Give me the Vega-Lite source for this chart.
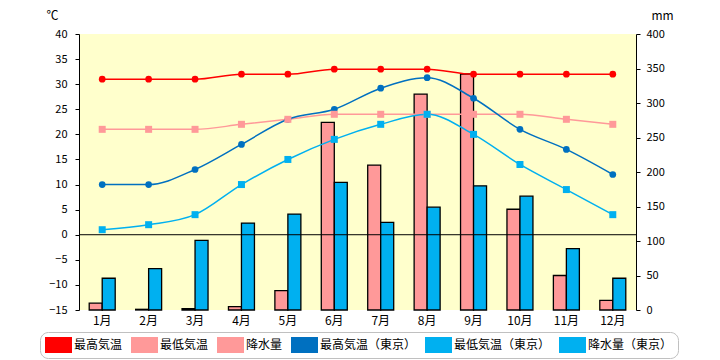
{
  "$schema": "https://vega.github.io/schema/vega-lite/v6.json",
  "width": 557,
  "height": 276,
  "autosize": {"type": "none"},
  "padding": {"left": 79, "top": 34, "right": 84, "bottom": 50},
  "background": "white",
  "config": {
    "view": {"fill": "#FFFFCC", "stroke": null},
    "font": "Noto Sans CJK JP",
    "axis": {"labelFont": "Noto Sans CJK JP", "labelFontSize": 11, "labelColor": "black", "domainColor": "black", "tickColor": "black", "grid": false, "titleFontWeight": "normal", "titleFont": "Noto Sans CJK JP", "titleColor": "black", "labelOverlap": false}
  },
  "datasets": {
    "temp": [
      {"month": "1月", "series": "最高気温", "value": 31},
      {"month": "2月", "series": "最高気温", "value": 31},
      {"month": "3月", "series": "最高気温", "value": 31},
      {"month": "4月", "series": "最高気温", "value": 32},
      {"month": "5月", "series": "最高気温", "value": 32},
      {"month": "6月", "series": "最高気温", "value": 33},
      {"month": "7月", "series": "最高気温", "value": 33},
      {"month": "8月", "series": "最高気温", "value": 33},
      {"month": "9月", "series": "最高気温", "value": 32},
      {"month": "10月", "series": "最高気温", "value": 32},
      {"month": "11月", "series": "最高気温", "value": 32},
      {"month": "12月", "series": "最高気温", "value": 32},
      {"month": "1月", "series": "最低気温", "value": 21},
      {"month": "2月", "series": "最低気温", "value": 21},
      {"month": "3月", "series": "最低気温", "value": 21},
      {"month": "4月", "series": "最低気温", "value": 22},
      {"month": "5月", "series": "最低気温", "value": 23},
      {"month": "6月", "series": "最低気温", "value": 24},
      {"month": "7月", "series": "最低気温", "value": 24},
      {"month": "8月", "series": "最低気温", "value": 24},
      {"month": "9月", "series": "最低気温", "value": 24},
      {"month": "10月", "series": "最低気温", "value": 24},
      {"month": "11月", "series": "最低気温", "value": 23},
      {"month": "12月", "series": "最低気温", "value": 22},
      {"month": "1月", "series": "最高気温（東京）", "value": 10},
      {"month": "2月", "series": "最高気温（東京）", "value": 10},
      {"month": "3月", "series": "最高気温（東京）", "value": 13},
      {"month": "4月", "series": "最高気温（東京）", "value": 18},
      {"month": "5月", "series": "最高気温（東京）", "value": 23},
      {"month": "6月", "series": "最高気温（東京）", "value": 25},
      {"month": "7月", "series": "最高気温（東京）", "value": 29.2},
      {"month": "8月", "series": "最高気温（東京）", "value": 31.3},
      {"month": "9月", "series": "最高気温（東京）", "value": 27.2},
      {"month": "10月", "series": "最高気温（東京）", "value": 21},
      {"month": "11月", "series": "最高気温（東京）", "value": 17},
      {"month": "12月", "series": "最高気温（東京）", "value": 12},
      {"month": "1月", "series": "最低気温（東京）", "value": 1},
      {"month": "2月", "series": "最低気温（東京）", "value": 2},
      {"month": "3月", "series": "最低気温（東京）", "value": 4},
      {"month": "4月", "series": "最低気温（東京）", "value": 10},
      {"month": "5月", "series": "最低気温（東京）", "value": 15},
      {"month": "6月", "series": "最低気温（東京）", "value": 19},
      {"month": "7月", "series": "最低気温（東京）", "value": 22},
      {"month": "8月", "series": "最低気温（東京）", "value": 24},
      {"month": "9月", "series": "最低気温（東京）", "value": 20},
      {"month": "10月", "series": "最低気温（東京）", "value": 14},
      {"month": "11月", "series": "最低気温（東京）", "value": 9},
      {"month": "12月", "series": "最低気温（東京）", "value": 4}
    ],
    "rain": [
      {"month": "1月", "series": "降水量", "value": 10},
      {"month": "2月", "series": "降水量", "value": 1},
      {"month": "3月", "series": "降水量", "value": 2},
      {"month": "4月", "series": "降水量", "value": 5},
      {"month": "5月", "series": "降水量", "value": 28},
      {"month": "6月", "series": "降水量", "value": 272},
      {"month": "7月", "series": "降水量", "value": 210},
      {"month": "8月", "series": "降水量", "value": 313},
      {"month": "9月", "series": "降水量", "value": 342},
      {"month": "10月", "series": "降水量", "value": 146},
      {"month": "11月", "series": "降水量", "value": 50},
      {"month": "12月", "series": "降水量", "value": 14},
      {"month": "1月", "series": "降水量（東京）", "value": 46},
      {"month": "2月", "series": "降水量（東京）", "value": 60},
      {"month": "3月", "series": "降水量（東京）", "value": 101},
      {"month": "4月", "series": "降水量（東京）", "value": 126},
      {"month": "5月", "series": "降水量（東京）", "value": 139},
      {"month": "6月", "series": "降水量（東京）", "value": 185},
      {"month": "7月", "series": "降水量（東京）", "value": 127},
      {"month": "8月", "series": "降水量（東京）", "value": 149},
      {"month": "9月", "series": "降水量（東京）", "value": 180},
      {"month": "10月", "series": "降水量（東京）", "value": 165},
      {"month": "11月", "series": "降水量（東京）", "value": 89},
      {"month": "12月", "series": "降水量（東京）", "value": 46}
    ]
  },
  "layer": [
    {
      "data": {"name": "rain"},
      "mark": {"type": "bar", "stroke": "black", "strokeWidth": 1.3},
      "encoding": {
        "x": {"field": "month", "type": "nominal", "sort": ["1月","2月","3月","4月","5月","6月","7月","8月","9月","10月","11月","12月"], "scale": {"paddingInner": 0.44, "paddingOuter": 0.22}, "axis": {"title": null, "domain": false, "ticks": false, "labelAngle": 0, "labelFontSize": 12, "labelPadding": 5}},
        "xOffset": {"field": "series", "type": "nominal", "sort": ["降水量", "降水量（東京）"], "scale": {"paddingInner": 0, "paddingOuter": 0}},
        "y": {"field": "value", "type": "quantitative", "scale": {"domain": [0, 400], "nice": false, "zero": true}, "axis": {"orient": "right", "tickCount": 8, "labelOverlap": false, "title": "mm", "titleAngle": 0, "titleX": 26, "titleY": -19, "titleAlign": "center", "titleBaseline": "middle", "titleFontSize": 12, "tickSize": 4, "labelPadding": 6}},
        "color": {
          "field": "series", "type": "nominal",
          "scale": {"domain": ["最高気温", "最低気温", "降水量", "最高気温（東京）", "最低気温（東京）", "降水量（東京）"], "range": ["#FF0000", "#FF9999", "#FF9999", "#0070C0", "#00B0F0", "#00B0F0"]},
          "legend": {
            "orient": "none", "legendX": -39, "legendY": 298, "direction": "horizontal", "columns": 6, "title": null,
            "padding": 5, "strokeColor": "#C0C0C0", "cornerRadius": 8, "fillColor": "white",
            "labelFont": "Noto Sans CJK JP", "labelFontSize": 12, "labelColor": "black", "labelOffset": 2, "labelLimit": 300,
            "columnPadding": 8, "clipHeight": 16, "symbolSize": 676, "symbolStrokeWidth": 1,
            "encode": {
              "legend": {"strokeWidth": {"value": 2}},
              "symbols": {
                "strokeWidth": {"value": 1},
                "size": {"value": 676},
                "opacity": {"value": 1}
              }
            }
          }
        }
      }
    },
    {
      "data": {"name": "temp"},
      "layer": [
        {
          "data": {"values": [{}]},
          "mark": {"type": "rule", "color": "black", "strokeWidth": 1},
          "encoding": {
            "y": {"datum": 0, "type": "quantitative", "scale": {"domain": [-15, 40], "nice": false, "zero": false}, "axis": {"tickCount": 11, "labelOverlap": false, "title": "℃", "titleAngle": 0, "titleX": -27, "titleY": -19, "titleAlign": "center", "titleBaseline": "middle", "titleFontSize": 12, "tickSize": 4, "labelPadding": 8}}
          }
        },
        {
          "mark": {"type": "line", "strokeWidth": 1.5, "interpolate": "monotone"},
          "encoding": {
            "x": {"field": "month", "type": "nominal", "sort": ["1月","2月","3月","4月","5月","6月","7月","8月","9月","10月","11月","12月"], "axis": {"title": null, "domain": false, "ticks": false, "labelAngle": 0, "labelFontSize": 12, "labelPadding": 5}},
            "y": {"field": "value", "type": "quantitative", "scale": {"domain": [-15, 40], "nice": false, "zero": false}, "axis": {"tickCount": 11, "labelOverlap": false, "title": "℃", "titleAngle": 0, "titleX": -27, "titleY": -19, "titleAlign": "center", "titleBaseline": "middle", "titleFontSize": 12, "tickSize": 4, "labelPadding": 8}},
            "color": {"field": "series", "type": "nominal", "legend": null}
          }
        },
        {
          "transform": [{"filter": "indexof(datum.series,'最高')===0"}],
          "mark": {"type": "point", "shape": "circle", "filled": true, "size": 45, "opacity": 1},
          "encoding": {
            "x": {"field": "month", "type": "nominal", "sort": ["1月","2月","3月","4月","5月","6月","7月","8月","9月","10月","11月","12月"]},
            "y": {"field": "value", "type": "quantitative"},
            "color": {"field": "series", "type": "nominal", "legend": null}
          }
        },
        {
          "transform": [{"filter": "indexof(datum.series,'最低')===0"}],
          "mark": {"type": "point", "shape": "square", "filled": true, "size": 49, "opacity": 1},
          "encoding": {
            "x": {"field": "month", "type": "nominal", "sort": ["1月","2月","3月","4月","5月","6月","7月","8月","9月","10月","11月","12月"]},
            "y": {"field": "value", "type": "quantitative"},
            "color": {"field": "series", "type": "nominal", "legend": null}
          }
        }
      ]
    }
  ],
  "resolve": {"scale": {"y": "independent"}}
}
